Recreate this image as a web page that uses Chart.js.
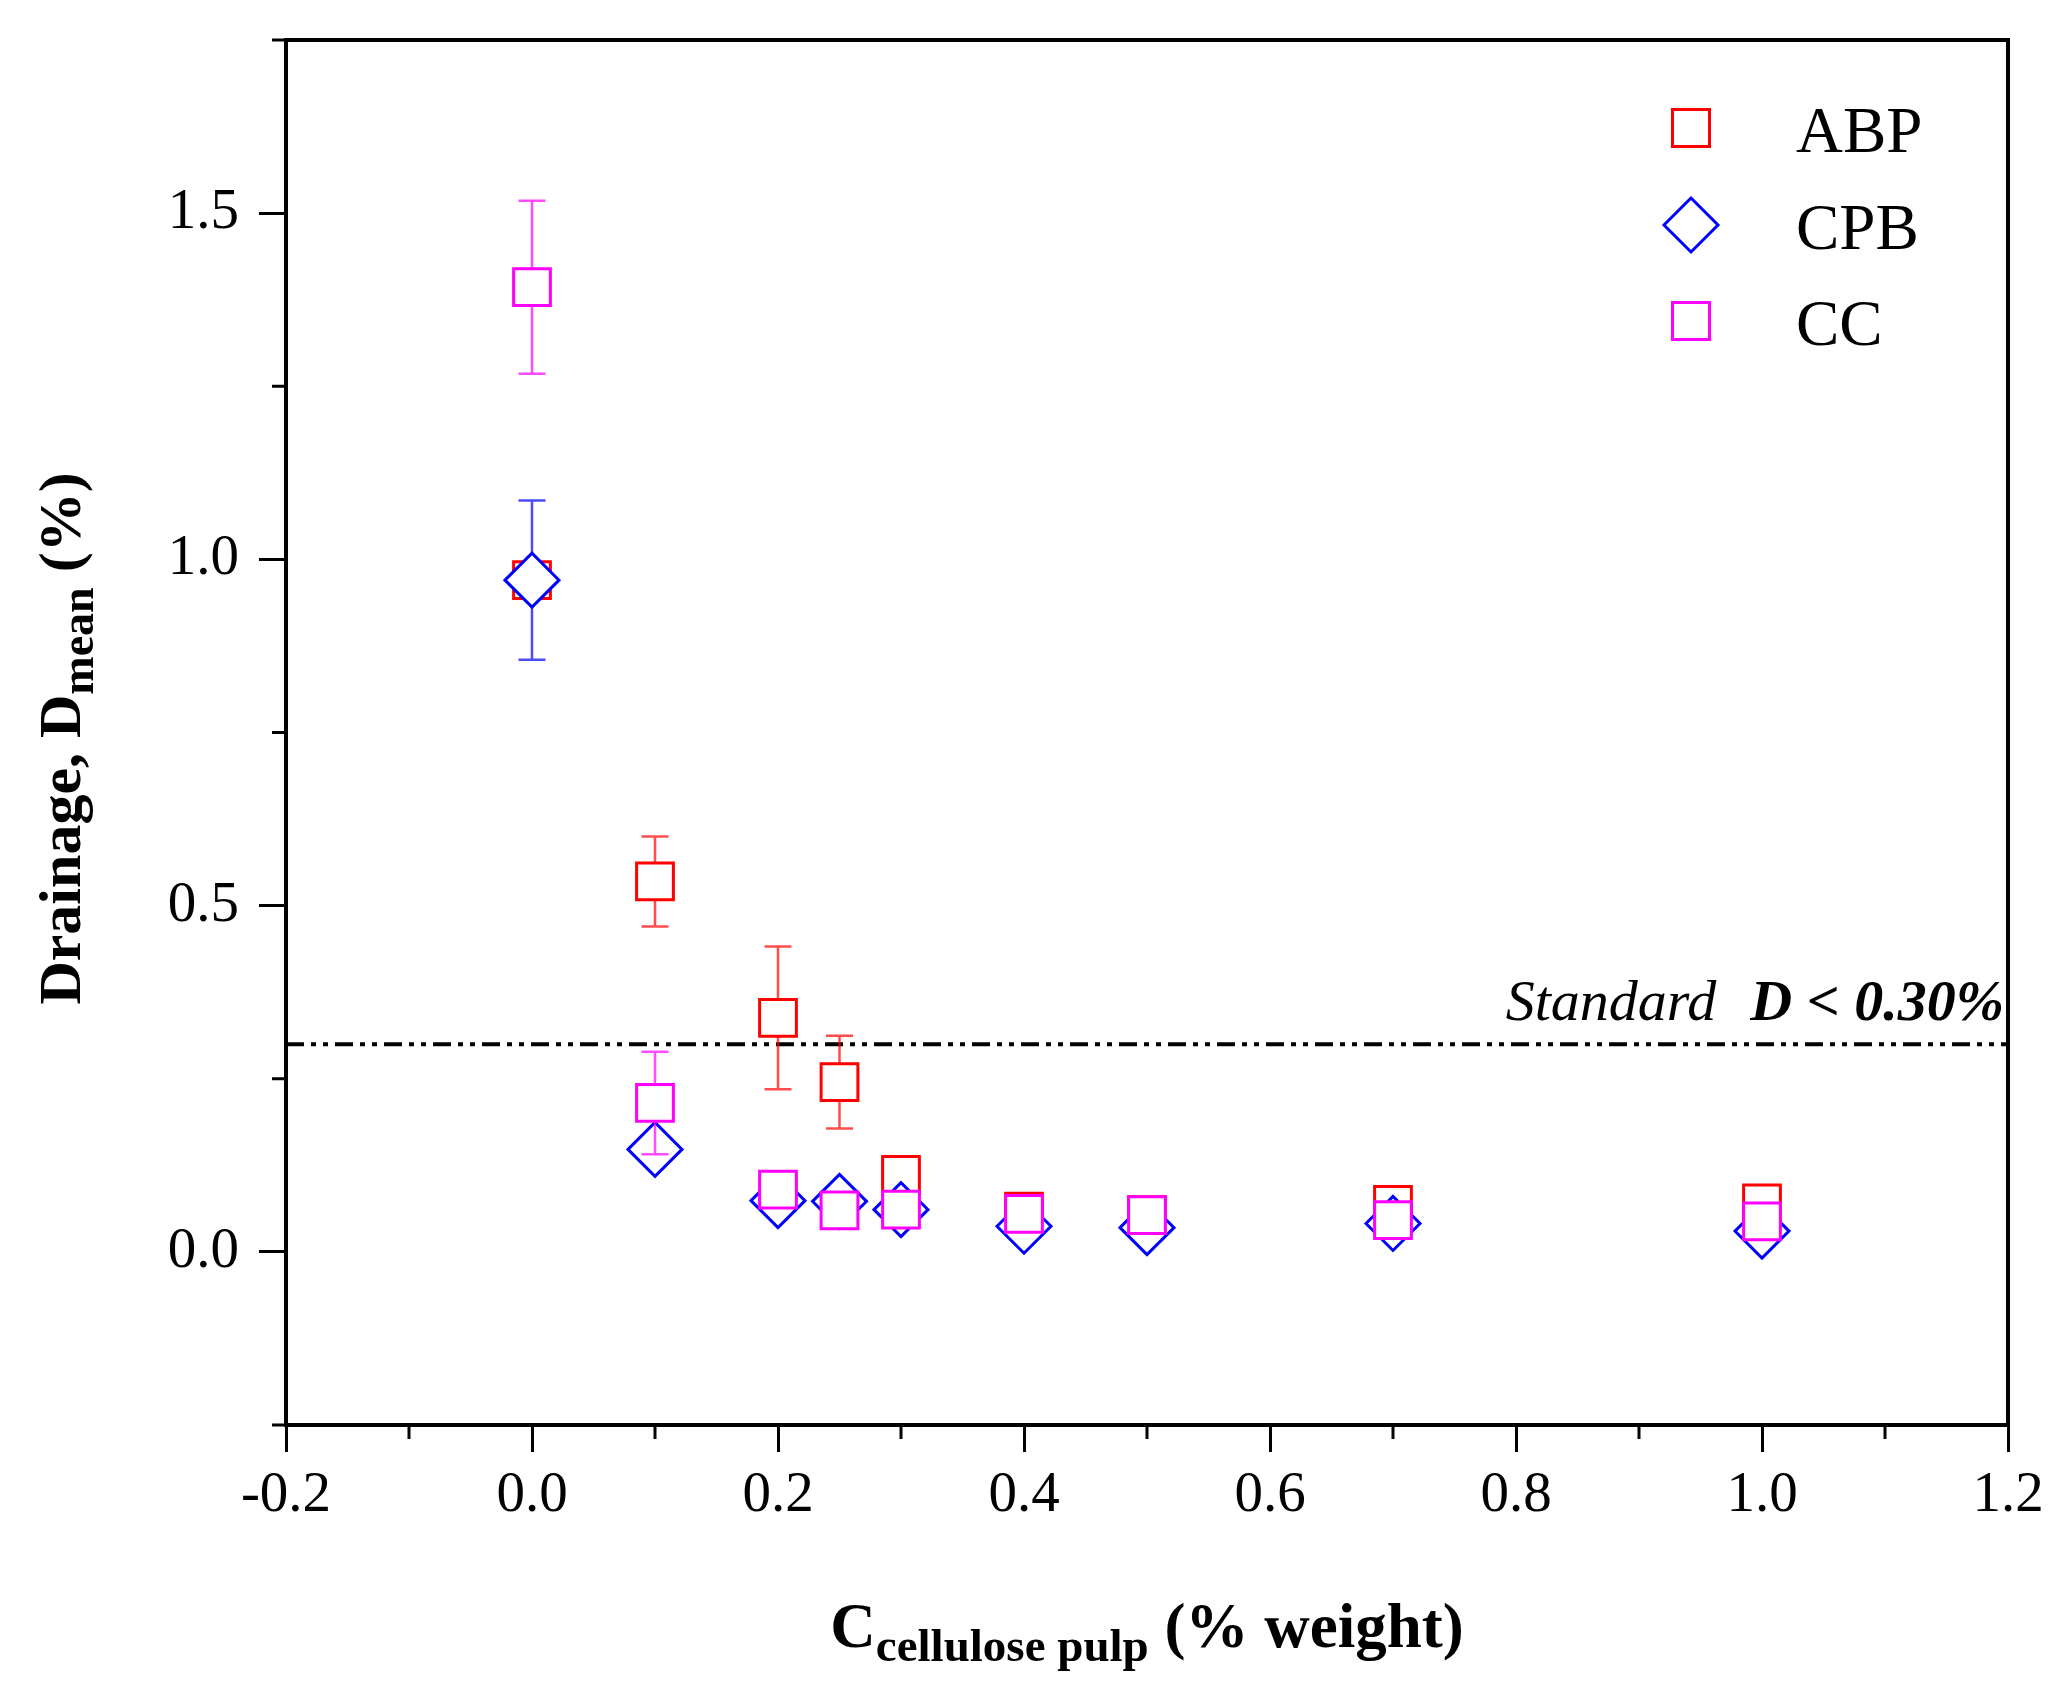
<!DOCTYPE html>
<html>
<head>
<meta charset="utf-8">
<script src="https://cdn.jsdelivr.net/npm/chart.js@4/dist/chart.umd.min.js"></script>
<style>
  body { margin: 0; background: #fff; }
  #wrap { width: 2063px; height: 1702px; position: relative; }
</style>
</head>
<body>
<div id="wrap"><canvas id="myChart"></canvas></div>
<script>
// cellulose pulp content (% weight)
const pulp = [0, 0.1, 0.2, 0.25, 0.3, 0.4, 0.5, 0.7, 1.0];

// mean drainage (%) and error for each mortar
const abp = [0.97, 0.535, 0.338, 0.245, 0.111, 0.058, 0.053, 0.068, 0.070];
const abpErr = [0.02, 0.065, 0.103, 0.067, 0.01, 0.005, 0.005, 0.012, 0.01];
const cpb = [0.97, 0.148, 0.074, 0.073, 0.061, 0.037, 0.035, 0.041, 0.030];
const cpbErr = [0.115, 0.017, 0.01, 0.01, 0.01, 0.01, 0.01, 0.01, 0.01];
const cc = [1.393, 0.215, 0.090, 0.060, 0.061, 0.055, 0.053, 0.046, 0.044];
const ccErr = [0.125, 0.074, 0.01, 0.01, 0.01, 0.01, 0.01, 0.01, 0.01];

const seriesNames = ['ABP', 'CPB', 'CC'];
const standardLimit = 0.30;

// axis ticks
const xTicks = [-0.2, 0, 0.2, 0.4, 0.6, 0.8, 1.0, 1.2];
const xMinorTicks = [-0.1, 0.1, 0.3, 0.5, 0.7, 0.9, 1.1];
const yTicks = [0, 0.5, 1.0, 1.5];
const yMinorTicks = [-0.25, 0.25, 0.75, 1.25, 1.75];

const serif = "'Liberation Serif', 'DejaVu Serif', serif";

function toPoints(xs, ys) {
    const result = [];
    for (let i = 0; i < xs.length; i++) {
        result.push({ x: xs[i], y: ys[i] });
    }
    return result;
}

function makeSet(label, values, errors, color, style, radius, order) {
    return {
        label: label,
        data: toPoints(pulp, values),
        errors: errors,
        showLine: false,
        pointStyle: style,
        pointRadius: radius,
        pointHoverRadius: radius,
        pointBorderWidth: 3,
        pointBorderColor: color,
        pointBackgroundColor: '#ffffff',
        borderColor: color,
        backgroundColor: '#ffffff',
        order: order,
    };
}

// error bars, drawn just before each dataset's markers
const errorBars = {
    id: 'errorBars',
    beforeDatasetDraw(chart, args) {
        const ds = chart.data.datasets[args.index];
        const x = chart.scales.x;
        const y = chart.scales.y;
        const ctx = chart.ctx;
        ctx.save();
        ctx.strokeStyle = ds.borderColor;
        ctx.globalAlpha = 0.7;
        ctx.lineWidth = 2.5;
        for (let i = 0; i < ds.data.length; i++) {
            const px = x.getPixelForValue(ds.data[i].x);
            const top = y.getPixelForValue(ds.data[i].y + ds.errors[i]);
            const bot = y.getPixelForValue(ds.data[i].y - ds.errors[i]);
            ctx.beginPath();
            ctx.moveTo(px, top);
            ctx.lineTo(px, bot);
            ctx.moveTo(px - 13.5, top);
            ctx.lineTo(px + 13.5, top);
            ctx.moveTo(px - 13.5, bot);
            ctx.lineTo(px + 13.5, bot);
            ctx.stroke();
        }
        ctx.restore();
    }
};

// frame, minor ticks, standard line, titles and legend
const decorations = {
    id: 'decorations',
    beforeDatasetsDraw(chart) {
        const ctx = chart.ctx;
        const x = chart.scales.x;
        const y = chart.scales.y;

        // standard limit line
        const ly = y.getPixelForValue(standardLimit);
        ctx.save();
        ctx.strokeStyle = '#000';
        ctx.lineWidth = 4;
        ctx.setLineDash([18, 7, 5, 7, 5, 7]);
        ctx.beginPath();
        ctx.moveTo(x.getPixelForValue(-0.2), ly);
        ctx.lineTo(x.getPixelForValue(1.2), ly);
        ctx.stroke();
        ctx.restore();

        // annotation
        ctx.save();
        ctx.fillStyle = '#000';
        ctx.textBaseline = 'alphabetic';
        ctx.textAlign = 'right';
        const ax = x.getPixelForValue(1.2) - 4;
        const ay = ly - 24;
        ctx.font = 'italic bold 58px ' + serif;
        ctx.fillText('D < 0.30%', ax, ay);
        const w = ctx.measureText('D < 0.30%').width;
        ctx.font = 'italic 58px ' + serif;
        ctx.fillText('Standard', ax - w - 34, ay);
        ctx.restore();
    },
    afterDraw(chart) {
        const ctx = chart.ctx;
        const x = chart.scales.x;
        const y = chart.scales.y;
        const area = chart.chartArea;

        ctx.save();
        ctx.strokeStyle = '#000';
        ctx.lineWidth = 4;
        ctx.strokeRect(area.left, area.top, area.right - area.left, area.bottom - area.top);

        ctx.lineWidth = 3;
        ctx.beginPath();
        xMinorTicks.forEach((v) => {
            const px = x.getPixelForValue(v);
            ctx.moveTo(px, area.bottom);
            ctx.lineTo(px, area.bottom + 14);
        });
        yMinorTicks.forEach((v) => {
            const py = y.getPixelForValue(v);
            ctx.moveTo(area.left, py);
            ctx.lineTo(area.left - 14, py);
        });
        ctx.stroke();
        ctx.restore();

        // x title: C_cellulose pulp (% weight)
        ctx.save();
        ctx.fillStyle = '#000';
        ctx.textBaseline = 'alphabetic';
        ctx.textAlign = 'left';
        const big = 'bold 63px ' + serif;
        const small = 'bold 47px ' + serif;
        ctx.font = big;
        const wC = ctx.measureText('C').width;
        const wRest = ctx.measureText(' (% weight)').width;
        ctx.font = small;
        const wSub = ctx.measureText('cellulose pulp').width;
        const total = wC + wSub + wRest;
        let tx = (area.left + area.right) / 2 - total / 2;
        const tyBase = area.bottom + 222;
        ctx.font = big;
        ctx.fillText('C', tx, tyBase);
        tx += wC;
        ctx.font = small;
        ctx.fillText('cellulose pulp', tx, tyBase + 14);
        tx += wSub;
        ctx.font = big;
        ctx.fillText(' (% weight)', tx, tyBase);
        ctx.restore();

        // y title: Drainage, D_mean (%)
        ctx.save();
        ctx.translate(80, (area.top + area.bottom) / 2 + 6);
        ctx.rotate(-Math.PI / 2);
        ctx.fillStyle = '#000';
        ctx.textBaseline = 'alphabetic';
        ctx.textAlign = 'left';
        const yBig = 'bold 60px ' + serif;
        const ySmall = 'bold 46px ' + serif;
        ctx.font = yBig;
        const w1 = ctx.measureText('Drainage, D').width;
        const w3 = ctx.measureText(' (%)').width;
        ctx.font = ySmall;
        const w2 = ctx.measureText('mean').width;
        let sx = -(w1 + w2 + w3) / 2;
        ctx.font = yBig;
        ctx.fillText('Drainage, D', sx, 0);
        sx += w1;
        ctx.font = ySmall;
        ctx.fillText('mean', sx, 13);
        sx += w2;
        ctx.font = yBig;
        ctx.fillText(' (%)', sx, 0);
        ctx.restore();

        // legend
        ctx.save();
        const lx = area.right - 317;
        const rows = [88, 185, 281];
        chart.data.datasets.forEach((ds, i) => {
            const cy = area.top + rows[i];
            ctx.strokeStyle = ds.borderColor;
            ctx.lineWidth = 3;
            ctx.beginPath();
            if (ds.pointStyle === 'rectRot') {
                ctx.moveTo(lx, cy - 27);
                ctx.lineTo(lx + 27, cy);
                ctx.lineTo(lx, cy + 27);
                ctx.lineTo(lx - 27, cy);
                ctx.closePath();
            } else {
                ctx.rect(lx - 18.5, cy - 18.5, 37, 37);
            }
            ctx.stroke();
            ctx.fillStyle = '#000';
            ctx.font = '65px ' + serif;
            ctx.textAlign = 'left';
            ctx.textBaseline = 'alphabetic';
            ctx.fillText(ds.label, lx + 105, cy + 24);
        });
        ctx.restore();
    }
};

new Chart('myChart', {
    type: 'scatter',
    data: {
        datasets: [
            makeSet(seriesNames[0], abp, abpErr, '#ff0000', 'rect', 26, 3),
            makeSet(seriesNames[1], cpb, cpbErr, '#0000ff', 'rectRot', 27, 2),
            makeSet(seriesNames[2], cc, ccErr, '#ff00ff', 'rect', 26, 1),
        ]
    },
    options: {
        responsive: true,
        maintainAspectRatio: false,
        devicePixelRatio: 1,
        animation: false,
        layout: {
            padding: { left: 0, right: 55, top: 40, bottom: 0 }
        },
        scales: {
            x: {
                type: 'linear',
                min: -0.2,
                max: 1.2,
                afterBuildTicks: (axis) => {
                    axis.ticks = xTicks.map((v) => ({ value: v }));
                },
                afterFit: (axis) => {
                    axis.height = 277;
                    axis.paddingLeft = 0;
                    axis.paddingRight = 0;
                },
                ticks: {
                    font: { family: serif, size: 57 },
                    color: '#000',
                    padding: 10,
                    maxRotation: 0,
                    callback: (v) => Number(v).toFixed(1),
                },
                grid: {
                    drawOnChartArea: false,
                    drawTicks: true,
                    tickLength: 27,
                    tickWidth: 3,
                    tickColor: '#000',
                },
                border: { display: true, width: 4, color: '#000' },
            },
            y: {
                type: 'linear',
                min: -0.25,
                max: 1.75,
                afterBuildTicks: (axis) => {
                    axis.ticks = yTicks.map((v) => ({ value: v }));
                },
                afterFit: (axis) => {
                    axis.width = 286;
                    axis.paddingTop = 0;
                    axis.paddingBottom = 0;
                },
                ticks: {
                    font: { family: serif, size: 57 },
                    color: '#000',
                    padding: 20,
                    callback: (v) => Number(v).toFixed(1),
                },
                grid: {
                    drawOnChartArea: false,
                    drawTicks: true,
                    tickLength: 27,
                    tickWidth: 3,
                    tickColor: '#000',
                },
                border: { display: true, width: 4, color: '#000' },
            }
        },
        plugins: {
            legend: { display: false },
            tooltip: { enabled: false },
        }
    },
    plugins: [errorBars, decorations]
});
</script>
</body>
</html>
